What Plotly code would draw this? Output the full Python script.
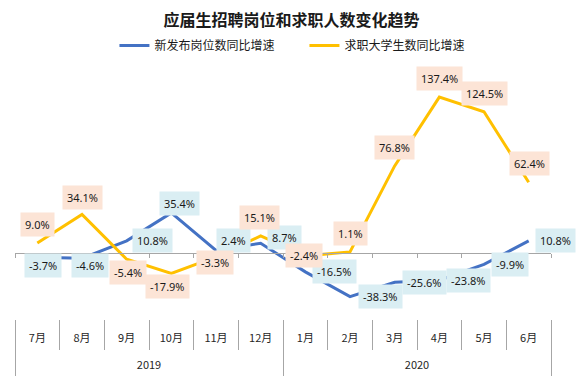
import plotly.graph_objects as go

year_labels = ["2019", "2020"]
months = ["7月", "8月", "9月", "10月", "11月", "12月", "1月", "2月", "3月", "4月", "5月", "6月"]
jobs_growth = [-3.7, -4.6, 10.8, 35.4, 2.4, 8.7, -16.5, -38.3, -25.6, -23.8, -9.9, 10.8]
seekers_growth = [9.0, 34.1, -5.4, -17.9, -3.3, 15.1, -2.4, 1.1, 76.8, 137.4, 124.5, 62.4]

# label offsets in pixels (xshift, yshift)
jobs_label_shift = [(6, -8), (8, -7), (26, 0), (8, 9), (17, 10), (24, 6),
                    (29, 0), (30, 0), (30, 0), (29, 0), (26, 0), (27, 0)]
seekers_label_shift = [(0, 18), (0, 17), (1, -13), (-4, -13), (-1, -6), (-1, 18),
                       (-1, 0), (0, 18), (0, 18), (0, 19), (0, 18), (1, 19)]

BLUE = "#4472C4"
GOLD = "#FFC000"
BLUE_BG = "#DAEEF3"
PEACH_BG = "#FCE4D6"
AXIS = "#A6A6A6"
CJK = "Noto Sans CJK SC"

fig = go.Figure()
fig.add_trace(go.Scatter(x=months, y=jobs_growth, mode="lines",
                         name="新发布岗位数同比增速",
                         line=dict(color=BLUE, width=3), hoverinfo="skip"))
fig.add_trace(go.Scatter(x=months, y=seekers_growth, mode="lines",
                         name="求职大学生数同比增速",
                         line=dict(color=GOLD, width=3), hoverinfo="skip"))
# invisible helper traces so the overlay axes get their categories
fig.add_trace(go.Scatter(x=months, y=jobs_growth, xaxis="x2", mode="lines",
                         line=dict(width=0, color="rgba(0,0,0,0)"),
                         showlegend=False, hoverinfo="skip"))
fig.add_trace(go.Scatter(x=year_labels, y=[None, None], xaxis="x3", mode="lines",
                         line=dict(width=0, color="rgba(0,0,0,0)"),
                         showlegend=False, hoverinfo="skip"))

annotations = []
for m, v, (dx, dy) in zip(months, jobs_growth, jobs_label_shift):
    annotations.append(dict(xref="x", yref="y", x=m, y=v, text=f"{v:.1f}%",
                            showarrow=False, bgcolor=BLUE_BG, borderpad=4,
                            xshift=dx, yshift=dy,
                            font=dict(size=11, color="#1a1a1a", family="Noto Sans")))
for m, v, (dx, dy) in zip(months, seekers_growth, seekers_label_shift):
    annotations.append(dict(xref="x", yref="y", x=m, y=v, text=f"{v:.1f}%",
                            showarrow=False, bgcolor=PEACH_BG, borderpad=4,
                            xshift=dx, yshift=dy,
                            font=dict(size=11, color="#1a1a1a", family="Noto Sans")))

Y_RANGE = [-58, 159.5]

fig.update_layout(
    width=583, height=381,
    margin=dict(l=15, r=32, t=72, b=62, autoexpand=False),
    paper_bgcolor="white", plot_bgcolor="white",
    font=dict(family=CJK, color="#262626"),
    title=dict(text="<b>应届生招聘岗位和求职人数变化趋势</b>", x=0.5, xref="container",
               xanchor="center", y=1 - 20 / 381, yanchor="middle",
               font=dict(size=16, family=CJK, color="#1a1a1a")),
    legend=dict(orientation="h", x=0.54, xanchor="center", y=1.107, yanchor="middle",
                font=dict(size=12, family=CJK, color="#1a1a1a"),
                entrywidth=145, entrywidthmode="pixels", bgcolor="rgba(0,0,0,0)"),
    xaxis=dict(type="category", range=[-0.5, 11.5], showline=False,
               ticks="outside", tickson="boundaries", ticklen=30, tickcolor=AXIS,
               ticklabelstandoff=11, automargin=False,
               tickfont=dict(size=11, family=CJK, color="#262626"),
               showgrid=False, zeroline=False),
    xaxis2=dict(type="category", overlaying="x", anchor="free",
                position=-Y_RANGE[0] / (Y_RANGE[1] - Y_RANGE[0]),
                range=[-0.5, 11.5], showline=True, linecolor=AXIS, linewidth=1,
                ticks="outside", tickson="boundaries", ticklen=4, tickcolor=AXIS,
                showticklabels=False, showgrid=False, automargin=False),
    xaxis3=dict(type="category", overlaying="x", anchor="y", side="bottom",
                range=[-0.5, 1.5], showline=False,
                ticks="outside", tickson="boundaries", ticklen=56, tickcolor=AXIS,
                ticklabelstandoff=38, automargin=False,
                tickfont=dict(size=11, family=CJK, color="#262626"),
                showgrid=False, zeroline=False),
    yaxis=dict(range=Y_RANGE, visible=False, showgrid=False, zeroline=False),
    annotations=annotations,
    hovermode=False,
)

fig.write_html("out.html", config={"displayModeBar": False},
               post_script="document.body.style.margin='0';")
